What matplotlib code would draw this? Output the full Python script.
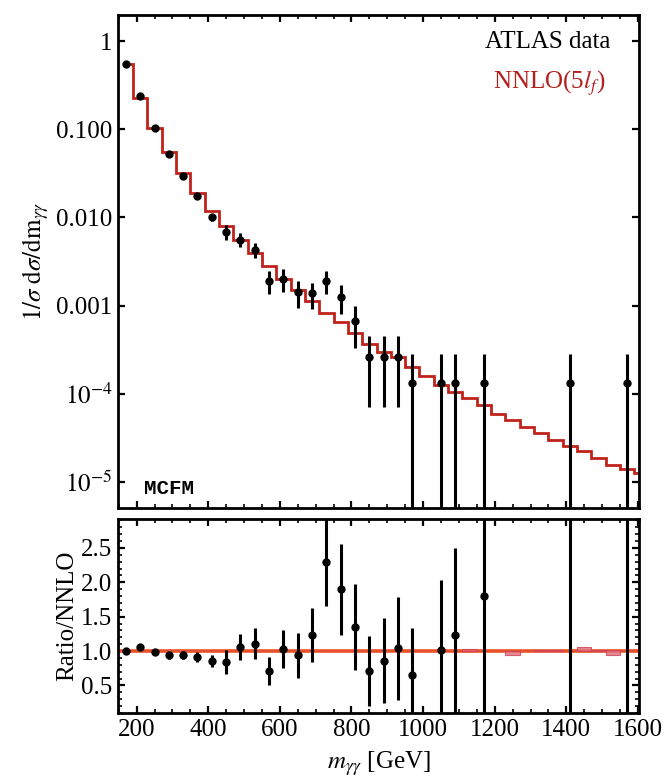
import numpy as np
import matplotlib
matplotlib.use('Agg')
import matplotlib.pyplot as plt
from matplotlib.ticker import FixedLocator, FixedFormatter, MultipleLocator, NullFormatter, NullLocator

plt.rcParams['font.family'] = ['Liberation Serif', 'DejaVu Serif']
plt.rcParams['mathtext.fontset'] = 'stix'

# NNLO(5l_f) prediction, bin edges and normalised cross section per bin
nnlo_edges = [165, 190, 230, 270, 310, 350, 390, 430, 470, 510, 550, 590, 630, 670, 710,
              750, 790, 830, 870, 910, 950, 990, 1030, 1070, 1110, 1150, 1190, 1230, 1270,
              1310, 1350, 1390, 1430, 1470, 1510, 1550, 1590, 1610]
nnlo_vals = [0.56, 0.23, 0.105, 0.055, 0.032, 0.019, 0.0117, 0.0080, 0.0056, 0.0040,
             0.0028, 0.0020, 0.0015, 0.00112, 0.00083, 0.00065, 0.00049, 0.000365,
             0.00030, 0.00026, 0.00020, 0.000157, 0.000126, 0.000105, 0.000089,
             0.000074, 0.000059, 0.000050, 0.000042, 0.000036, 0.000030, 0.000025,
             0.000022, 0.0000187, 0.0000156, 0.0000137, 0.0000124]

# ATLAS data
data_x = [170, 210, 250, 290, 330, 370, 410, 450, 490, 530, 570, 610, 650, 690, 730,
          770, 810, 850, 890, 930, 970, 1050, 1090, 1170, 1410, 1570]
data_y = [0.56, 0.24, 0.104, 0.052, 0.030, 0.0175, 0.0101, 0.0069, 0.0056, 0.0043,
          0.0019, 0.0020, 0.00141, 0.00137, 0.0019, 0.00125, 0.00066, 0.00026,
          0.00026, 0.00026, 0.00013, 0.00013, 0.00013, 0.00013, 0.00013, 0.00013]
data_err = [0.006, 0.005, 0.003, 0.0027, 0.002, 0.0013, 0.0010, 0.0013, 0.0010, 0.00085,
            0.00055, 0.00058, 0.00048, 0.00045, 0.00055, 0.00045, 0.00033, 0.00019,
            0.00019, 0.00019, 0.00015, 0.00015, 0.00015, 0.00015, 0.00015, 0.00015]

# ratio data / NNLO
ratio_y = [1.0, 1.06, 0.99, 0.94, 0.94, 0.91, 0.86, 0.84, 1.06, 1.11, 0.71, 1.03, 0.94,
           1.23, 2.29, 1.90, 1.35, 0.71, 0.86, 1.04, 0.65, 1.01, 1.23, 1.80, 5.2, 9.5]
ratio_err = [0.01, 0.02, 0.03, 0.05, 0.06, 0.07, 0.085, 0.17, 0.19, 0.22, 0.21, 0.28, 0.33,
             0.39, 0.63, 0.66, 0.62, 0.51, 0.62, 0.75, 0.68, 1.03, 1.27, 1.76, 6.0, 11.0]

# NNLO uncertainty boxes in the ratio panel
band_left = [1110, 1230, 1310, 1350, 1430, 1470, 1510]
band_lo = [1.0, 0.95, 1.0, 1.0, 1.0, 1.0, 0.95]
band_hi = [1.03, 1.0, 1.02, 1.02, 1.06, 1.02, 1.02]
band_width = 40

W, H = 667, 783
fig = plt.figure(figsize=(W / 100, H / 100), dpi=100)
ax = fig.add_axes([118 / W, 1 - 508 / H, 521 / W, 493 / H])
axr = fig.add_axes([118 / W, 1 - 713 / H, 521 / W, 194 / H])

red = '#c0231c'
fs = 18

# top panel
ax.stairs(nnlo_vals, nnlo_edges, color=red, lw=2.0, baseline=None, zorder=2)
ax.errorbar(data_x, data_y, yerr=data_err, fmt='o', color='black', ms=5,
            elinewidth=2.2, capsize=0, zorder=3)
ax.set_yscale('log')
ax.set_xlim(148, 1603)
ax.set_ylim(5e-6, 2.0)
ax.yaxis.set_major_locator(FixedLocator([1e-5, 1e-4, 1e-3, 1e-2, 1e-1, 1]))
ax.yaxis.set_major_formatter(FixedFormatter([r'$10^{-5}$', r'$10^{-4}$', '0.001',
                                             '0.010', '0.100', '1']))
ax.yaxis.set_minor_locator(NullLocator())
ax.xaxis.set_major_locator(MultipleLocator(200))
ax.xaxis.set_minor_locator(MultipleLocator(50))
ax.xaxis.set_major_formatter(NullFormatter())
ax.set_ylabel(r'$1/\sigma\ \mathrm{d}\sigma/\mathrm{dm}_{\gamma\gamma}$', fontsize=fs,
              family='DejaVu Sans', labelpad=4)
ax.text(0.945, 0.945, 'ATLAS data', transform=ax.transAxes, ha='right', va='center',
        fontsize=fs)
ax.text(0.935, 0.862, r'NNLO(5$l_f$)', transform=ax.transAxes, ha='right', va='center',
        fontsize=fs, color='#b3201c')
ax.text(0.05, 0.04, 'MCFM', transform=ax.transAxes, ha='left', va='center',
        fontsize=15, family='Liberation Mono', fontweight='bold')

# ratio panel
axr.axhline(1.0, color='#e8502a', lw=2.6, zorder=2)
for x0, lo, hi in zip(band_left, band_lo, band_hi):
    axr.add_patch(plt.Rectangle((x0, lo), band_width, hi - lo, facecolor='#e07080',
                                edgecolor='#d04050', lw=0.8, alpha=0.8, zorder=2))
axr.errorbar(data_x, ratio_y, yerr=ratio_err, fmt='o', color='black', ms=5,
             elinewidth=2.2, capsize=0, zorder=3)
axr.set_xlim(148, 1603)
axr.set_ylim(0.1, 2.92)
axr.yaxis.set_major_locator(FixedLocator([0.5, 1.0, 1.5, 2.0, 2.5]))
axr.yaxis.set_minor_locator(MultipleLocator(0.1))
axr.xaxis.set_major_locator(MultipleLocator(200))
axr.xaxis.set_minor_locator(MultipleLocator(50))
axr.set_ylabel('Ratio/NNLO', fontsize=fs, labelpad=2)
axr.set_xlabel(r'$m_{\gamma\gamma}$ [GeV]', fontsize=fs, labelpad=6)

for a in (ax, axr):
    a.tick_params(which='both', direction='in', top=True, right=True, labelsize=fs)
    a.tick_params(which='major', length=5, width=1.6, pad=4)
    a.tick_params(which='minor', length=3, width=1.2)
    for s in a.spines.values():
        s.set_linewidth(2.0)

fig.savefig('out.png', dpi=100)
